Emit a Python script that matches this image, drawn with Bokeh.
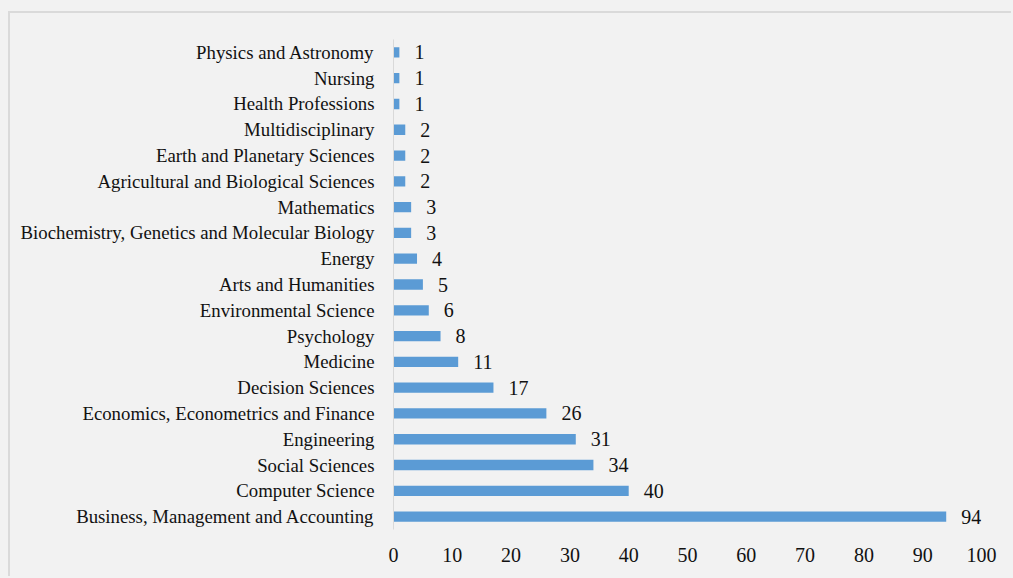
from bokeh.plotting import figure
from bokeh.models import ColumnDataSource, FactorRange, FixedTicker
from bokeh.core.properties import value
from bokeh.embed import file_html
from bokeh.resources import INLINE

# data listed bottom to top
categories = [
    "Business, Management and Accounting",
    "Computer Science",
    "Social Sciences",
    "Engineering",
    "Economics, Econometrics and Finance",
    "Decision Sciences",
    "Medicine",
    "Psychology",
    "Environmental Science",
    "Arts and Humanities",
    "Energy",
    "Biochemistry, Genetics and Molecular Biology",
    "Mathematics",
    "Agricultural and Biological Sciences",
    "Earth and Planetary Sciences",
    "Multidisciplinary",
    "Health Professions",
    "Nursing",
    "Physics and Astronomy",
]
counts = [94, 40, 34, 31, 26, 17, 11, 8, 6, 5, 4, 3, 3, 2, 2, 2, 1, 1, 1]
x_ticks = [0, 10, 20, 30, 40, 50, 60, 70, 80, 90, 100]

src = ColumnDataSource(dict(cat=categories, val=counts, lab=[str(v) for v in counts]))

BG = "#f2f2f2"
FONT = "Liberation Serif"
TXT = "#111111"

p = figure(
    width=1003, height=565,
    y_range=FactorRange(factors=categories),
    x_range=(0, 100),
    output_backend="svg", toolbar_location=None,
    background_fill_color=BG, border_fill_color=BG,
    min_border_left=383, min_border_right=32, min_border_top=26, min_border_bottom=49,
)
p.outline_line_color = None
p.grid.visible = False

p.hbar(y="cat", right="val", left=0, height=0.4, source=src,
       fill_color="#5b9bd5", line_color=None)
p.text(x="val", y="cat", text="lab", source=src, x_offset=15,
       text_align="left", text_baseline="middle",
       text_font=value(FONT), text_font_size="20px", text_color=TXT)

yax = p.yaxis[0]
yax.axis_line_color = "#d9d9d9"
yax.axis_line_width = 1
yax.major_tick_line_color = None
yax.minor_tick_line_color = None
yax.major_label_standoff = 13
yax.major_label_text_font = FONT
yax.major_label_text_font_size = "18.8px"
yax.major_label_text_color = TXT

xax = p.xaxis[0]
xax.ticker = FixedTicker(ticks=x_ticks)
xax.axis_line_color = None
xax.major_tick_line_color = None
xax.minor_tick_line_color = None
xax.major_label_standoff = 12
xax.major_label_text_font = FONT
xax.major_label_text_font_size = "20px"
xax.major_label_text_color = TXT

p.styles = {"border-left": "2px solid #dadada", "border-top": "2px solid #dadada"}

html = file_html(p, INLINE)
i = html.rfind("<body>")
if i >= 0:
    html = (html[:i]
            + '<body style="background:#f2f2f2; padding:11px 0 0 8px; overflow:hidden;">'
            + html[i + len("<body>"):])
open("out.html", "w").write(html)
